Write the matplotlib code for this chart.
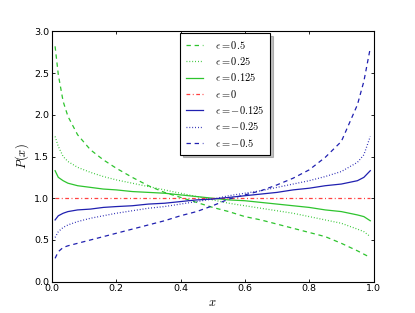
import matplotlib
matplotlib.use("Agg")
import matplotlib.pyplot as plt

# readings from the reference
x_grid = [0.01, 0.02, 0.035, 0.05, 0.08, 0.12, 0.16, 0.2, 0.25, 0.3, 0.35, 0.4,
          0.45, 0.5, 0.55, 0.6, 0.65, 0.7, 0.75, 0.8, 0.85, 0.9, 0.95, 0.97, 0.99]

p_pos_050 = [2.82, 2.48, 2.16, 1.98, 1.76, 1.58, 1.46, 1.36, 1.25, 1.15, 1.07, 1.01,
             0.95, 0.89, 0.84, 0.78, 0.74, 0.69, 0.64, 0.59, 0.54, 0.46, 0.37, 0.33, 0.29]
p_pos_025 = [1.74, 1.62, 1.50, 1.44, 1.37, 1.31, 1.26, 1.22, 1.18, 1.14, 1.10, 1.06,
             1.02, 0.98, 0.94, 0.91, 0.88, 0.85, 0.82, 0.78, 0.74, 0.70, 0.63, 0.60, 0.54]
p_pos_0125 = [1.33, 1.25, 1.21, 1.18, 1.15, 1.13, 1.11, 1.10, 1.08, 1.07, 1.06, 1.04,
              1.02, 1.00, 0.98, 0.97, 0.95, 0.93, 0.91, 0.89, 0.86, 0.84, 0.80, 0.78, 0.73]
p_zero = [1.0] * len(x_grid)
p_neg_0125 = [0.74, 0.79, 0.82, 0.84, 0.86, 0.87, 0.89, 0.90, 0.91, 0.93, 0.94, 0.96,
              0.98, 0.99, 1.01, 1.03, 1.05, 1.07, 1.10, 1.12, 1.15, 1.17, 1.21, 1.25, 1.33]
p_neg_025 = [0.53, 0.60, 0.65, 0.68, 0.72, 0.76, 0.79, 0.82, 0.85, 0.88, 0.90, 0.93,
             0.96, 0.99, 1.03, 1.06, 1.09, 1.13, 1.17, 1.21, 1.26, 1.32, 1.43, 1.52, 1.74]
p_neg_050 = [0.28, 0.36, 0.41, 0.43, 0.46, 0.50, 0.54, 0.58, 0.63, 0.68, 0.73, 0.79,
             0.84, 0.91, 0.99, 1.04, 1.09, 1.16, 1.24, 1.34, 1.49, 1.68, 2.12, 2.40, 2.80]

labels = [r"$\epsilon=0.5$", r"$\epsilon=0.25$", r"$\epsilon=0.125$", r"$\epsilon=0$",
          r"$\epsilon=-0.125$", r"$\epsilon=-0.25$", r"$\epsilon=-0.5$"]

green = "#2ec42e"
blue = "#2020b0"
red = "#ff4040"
dashed = (0, (3.5, 3))
dotted = (0, (0.7, 1.6))
dashdot = (0, (3, 2, 0.8, 2))

series = [
    (p_pos_050, green, dashed),
    (p_pos_025, green, dotted),
    (p_pos_0125, green, "-"),
    (p_zero, red, dashdot),
    (p_neg_0125, blue, "-"),
    (p_neg_025, blue, dotted),
    (p_neg_050, blue, dashed),
]

plt.rcParams["mathtext.fontset"] = "cm"

fig = plt.figure(figsize=(4.15, 3.13), dpi=100, facecolor="white")
ax = fig.add_axes([0.125, 0.1, 0.775, 0.8])

for (vals, col, ls), lab in zip(series, labels):
    ax.plot(x_grid, vals, color=col, linestyle=ls, linewidth=0.9, label=lab)

ax.set_xlim(0, 1)
ax.set_ylim(0, 3)
ax.set_xticks([0.0, 0.2, 0.4, 0.6, 0.8, 1.0])
ax.set_yticks([0.0, 0.5, 1.0, 1.5, 2.0, 2.5, 3.0])
ax.tick_params(direction="in", top=True, right=True, length=2.5, width=0.6,
               labelsize=6.8, pad=2)
for sp in ax.spines.values():
    sp.set_linewidth(0.8)

ax.set_xlabel(r"$x$", fontsize=9, labelpad=2)
ax.set_ylabel(r"$P(x)$", fontsize=9, labelpad=2)

leg = ax.legend(loc="upper left", bbox_to_anchor=(0.399, 0.994), borderaxespad=0,
                fontsize=7.5, shadow={"alpha": 0.35}, fancybox=False, handlelength=1.6,
                labelspacing=0.42, handletextpad=1.2, borderpad=0.55)
leg.get_frame().set_edgecolor("black")
leg.get_frame().set_linewidth(0.8)

fig.savefig("out.png", dpi=100, facecolor="white")
